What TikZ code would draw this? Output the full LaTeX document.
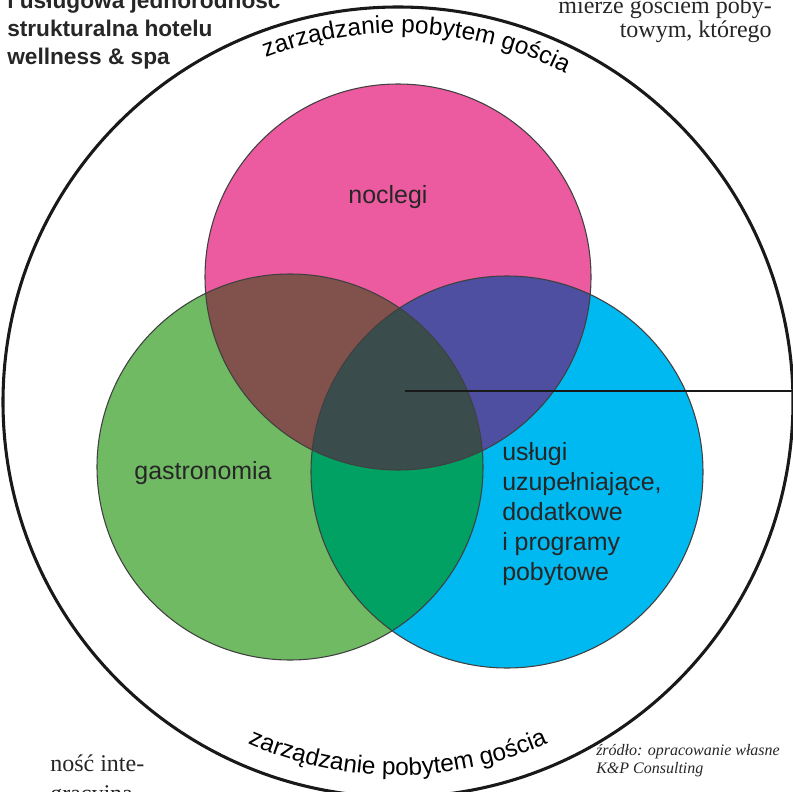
\documentclass[tikz,border=0pt]{standalone}
\usepackage{fontspec}
\setmainfont{Liberation Serif}
\setsansfont{Liberation Sans}
\usetikzlibrary{decorations.text}
\definecolor{noclegicol}{RGB}{236,90,160}
\definecolor{gastrocol}{RGB}{112,186,99}
\definecolor{uslugicol}{RGB}{0,185,240}
\definecolor{ngcol}{RGB}{128,82,75}
\definecolor{nucol}{RGB}{78,79,160}
\definecolor{gucol}{RGB}{0,161,99}
\definecolor{wszystkocol}{RGB}{58,77,76}
\newcommand\arcfont{\sffamily\fontsize{18.3}{20}\selectfont}
\tikzset{
ring/.style={line width=2.3pt, black!90},
venn edge/.style={draw=black!75, line width=0.8pt},
pointer/.style={line width=2.1pt, black!90},
region label/.style={font=\sffamily\fontsize{18.7}{22.5}\selectfont, text=black!85, inner sep=0pt},
page text/.style={font=\rmfamily\fontsize{18}{18}\selectfont, text=black!85, inner sep=0pt},
arc text/.style={decorate, decoration={text along path, text align=center, text={|\arcfont|#1}}},
}

\begin{document}
\begin{tikzpicture}[x=0.75pt,y=0.75pt]
    \useasboundingbox (0,0) rectangle (793,-792);
    \coordinate (O) at (398,-402);
    \coordinate (N) at (398,-277);
    \coordinate (G) at (290,-467);
    \coordinate (U) at (507,-472);

    % koła
    \fill[noclegicol] (N) circle[radius=193];
    \fill[gastrocol] (G) circle[radius=193];
    \fill[uslugicol] (U) circle[radius=196];
    \begin{scope}
        \clip (N) circle[radius=193];
        \fill[ngcol] (G) circle[radius=193];
        \fill[nucol] (U) circle[radius=196];
    \end{scope}
    \begin{scope}
        \clip (G) circle[radius=193];
        \fill[gucol] (U) circle[radius=196];
        \clip (N) circle[radius=193];
        \fill[wszystkocol] (U) circle[radius=196];
    \end{scope}
    \draw[venn edge] (N) circle[radius=193];
    \draw[venn edge] (G) circle[radius=193];
    \draw[venn edge] (U) circle[radius=196];

    \draw[ring] (O) circle[radius=395];
    \path[arc text={zarządzanie pobytem gościa}] (O) ++(160:369) arc[start angle=160, end angle=14, radius=369];
    \path[arc text={zarządzanie pobytem gościa}] (O) ++(200:373) arc[start angle=200, end angle=340, radius=373];

    \node[region label] (noclegi) at (388,-197) {noclegi};
    \node[region label] (gastronomia) at (203,-473) {gastronomia};
    \node[region label, align=left, anchor=north west] (uslugi) at (502,-442)
        {usługi\\uzupełniające,\\dodatkowe\\i programy\\pobytowe};

    \coordinate (srodek) at (405,-391);
    \coordinate (kraniec) at (797,-391);
    \draw[pointer] (srodek) -- (kraniec);

    \node[anchor=north west, align=left, inner sep=0pt, text=black!85,
        font=\sffamily\bfseries\fontsize{17}{21}\selectfont] (tytul) at (7,8)
        {i usługowa jednorodność\\strukturalna hotelu\\wellness \& spa};
    \node[page text, anchor=north east, align=right] (kolumna) at (772,3)
        {mierze gościem poby-\\towym, którego};
    \node[page text, anchor=north west, align=left, font=\rmfamily\fontsize{18}{22.5}\selectfont] (kolumnadol) at (50,-755)
        {ność inte-\\gracyjna};
    \node[anchor=north west, align=left, inner sep=0pt, text=black!85,
        font=\rmfamily\itshape\fontsize{12}{13.5}\selectfont] (zrodlo) at (596,-744)
        {źródło: opracowanie własne\\K\&P Consulting};
\end{tikzpicture}
\end{document}
